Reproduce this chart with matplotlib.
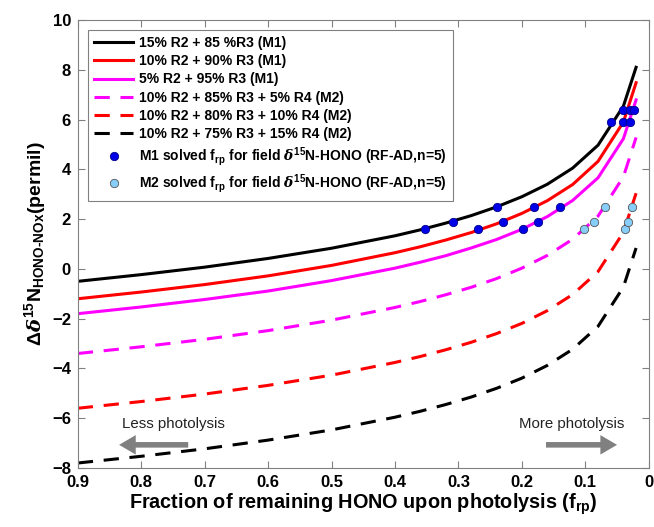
import matplotlib
matplotlib.use("Agg")
import matplotlib.pyplot as plt

plt.rcParams['font.family'] = ['Liberation Sans', 'DejaVu Sans']
plt.rcParams['font.weight'] = 'bold'
plt.rcParams['mathtext.fontset'] = 'custom'
plt.rcParams['mathtext.rm'] = 'Liberation Sans:bold'
plt.rcParams['mathtext.bf'] = 'Liberation Sans:bold'
plt.rcParams['mathtext.it'] = 'DejaVu Serif:italic'
plt.rcParams['mathtext.default'] = 'bf'

# fraction of remaining HONO (x) and modelled delta values (y)
frp = [0.9, 0.8, 0.7, 0.6, 0.5, 0.4, 0.36, 0.32, 0.28, 0.24, 0.2, 0.16, 0.12, 0.08, 0.04, 0.02]

m1_15 = [-0.50, -0.23, 0.07, 0.42, 0.83, 1.33, 1.57, 1.84, 2.14, 2.49, 2.90, 3.40, 4.05, 4.97, 6.54, 8.10]
m1_10 = [-1.20, -0.93, -0.63, -0.28, 0.14, 0.65, 0.89, 1.16, 1.46, 1.81, 2.23, 2.74, 3.39, 4.32, 5.90, 7.48]
m1_5 = [-1.80, -1.53, -1.23, -0.89, -0.47, 0.03, 0.27, 0.53, 0.84, 1.18, 1.59, 2.10, 2.75, 3.66, 5.23, 6.79]
m2_5 = [-3.40, -3.13, -2.83, -2.48, -2.06, -1.55, -1.31, -1.04, -0.74, -0.39, 0.03, 0.54, 1.19, 2.12, 3.70, 5.28]
m2_10 = [-5.60, -5.33, -5.03, -4.68, -4.27, -3.76, -3.52, -3.25, -2.95, -2.60, -2.19, -1.68, -1.03, -0.11, 1.47, 3.04]
m2_15 = [-7.80, -7.53, -7.23, -6.88, -6.47, -5.96, -5.72, -5.45, -5.15, -4.80, -4.39, -3.88, -3.23, -2.31, -0.73, 0.84]

# solved frp for field d15N-HONO
m1_x = [0.352, 0.269, 0.199, 0.308, 0.229, 0.175, 0.240, 0.181, 0.140,
        0.059, 0.040, 0.029, 0.040, 0.029, 0.023]
m1_y = [1.6, 1.6, 1.6, 1.9, 1.9, 1.9, 2.5, 2.5, 2.5,
        5.9, 5.9, 5.9, 6.4, 6.4, 6.4]
m2_x = [0.102, 0.038, 0.087, 0.033, 0.069, 0.027]
m2_y = [1.6, 1.6, 1.9, 1.9, 2.5, 2.5]

labels = ['15% R2 + 85 %R3 (M1)', '10% R2 + 90% R3 (M1)', '5% R2 + 95% R3 (M1)',
          '10% R2 + 85% R3 + 5% R4 (M2)', '10% R2 + 80% R3 + 10% R4 (M2)',
          '10% R2 + 75% R3 + 15% R4 (M2)']

fig = plt.figure(figsize=(6.54, 5.27), dpi=100)
ax = fig.add_axes([0.119, 0.112, 0.873, 0.850])

lw = 2.2
dash = (5, 3.5)
ax.plot(frp, m1_15, color='k', lw=lw, label=labels[0])
ax.plot(frp, m1_10, color='r', lw=lw, label=labels[1])
ax.plot(frp, m1_5, color='#ff00ff', lw=lw, label=labels[2])
ax.plot(frp, m2_5, color='#ff00ff', lw=lw, dashes=dash, label=labels[3])
ax.plot(frp, m2_10, color='r', lw=lw, dashes=dash, label=labels[4])
ax.plot(frp, m2_15, color='k', lw=lw, dashes=dash, label=labels[5])

ax.plot(m1_x, m1_y, 'o', ms=6, mfc='#0000e6', mec='#00008b', mew=0.6, ls='none',
        label=r'M1 solved f$_{rp}$ for field $\it{\delta}^{15}$N-HONO (RF-AD,n=5)')
ax.plot(m2_x, m2_y, 'o', ms=6, mfc='#87cefa', mec='#555555', mew=0.6, ls='none',
        label=r'M2 solved f$_{rp}$ for field $\it{\delta}^{15}$N-HONO (RF-AD,n=5)')

ax.set_xlim(0.9, 0)
ax.set_ylim(-8, 10)
ax.set_xticks([0.9, 0.8, 0.7, 0.6, 0.5, 0.4, 0.3, 0.2, 0.1, 0])
ax.set_xticklabels(['0.9', '0.8', '0.7', '0.6', '0.5', '0.4', '0.3', '0.2', '0.1', '0'])
ax.set_yticks(range(-8, 11, 2))
ax.tick_params(direction='in', top=True, right=True, length=5, width=0.8,
               color='#808080', labelsize=12, pad=5)
for s in ax.spines.values():
    s.set_color('#808080')
    s.set_linewidth(0.8)

ax.set_xlabel(r'Fraction of remaining HONO upon photolysis (f$_{rp}$)', fontsize=14.3,
              fontweight='bold', labelpad=1)
ax.set_ylabel(r'$\Delta\it{\delta}^{15}$N$_{HONO\text{-}NOx}$(permil)', fontsize=14,
              fontweight='bold', labelpad=3)

leg = ax.legend(loc='upper left', bbox_to_anchor=(0.0175, 0.978), borderaxespad=0,
                fontsize=10, handlelength=2.8, handletextpad=0.4, labelspacing=0.3,
                fancybox=False, framealpha=1, edgecolor='#808080', borderpad=0.45)
leg.get_frame().set_linewidth(0.8)

arrow = dict(facecolor='#808080', edgecolor='none', width=4, headwidth=14, headlength=12)
ax.annotate('', xy=(0.835, -7.07), xytext=(0.726, -7.07), arrowprops=arrow)
ax.annotate('', xy=(0.050, -7.07), xytext=(0.162, -7.07), arrowprops=arrow)
ax.text(0.7495, -6.22, 'Less photolysis', fontsize=10.8, fontweight='normal',
        ha='center', va='center', color='#222222')
ax.text(0.121, -6.22, 'More photolysis', fontsize=10.8, fontweight='normal',
        ha='center', va='center', color='#222222')

fig.savefig('out.png', dpi=100)
